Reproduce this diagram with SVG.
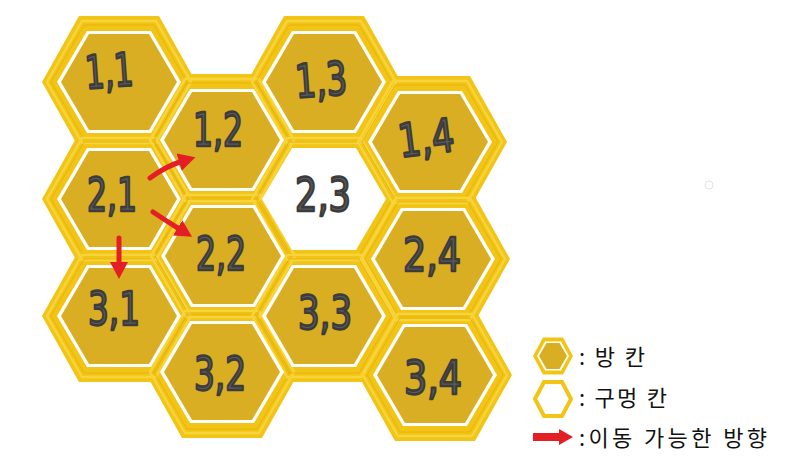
<svg xmlns="http://www.w3.org/2000/svg" width="789" height="464" viewBox="0 0 789 464">
<style>
.band{fill:#F2C416}
.s1{fill:none;stroke:#F7D43C;stroke-width:2.5}
.s2{fill:none;stroke:#E6B50C;stroke-width:1}
.ring{fill:#FFFFFF}
.gold{fill:#D9AE22}
.lbl{font-family:"DejaVu Sans","Liberation Sans",sans-serif;font-weight:normal;font-size:46px;fill:#5a5a5a;stroke:#3c3c3c;stroke-width:2.6;stroke-linejoin:round;text-anchor:middle}
.arrow{fill:none;stroke:#E31E24;stroke-width:5;stroke-linecap:round}
.leg{font-family:"Noto Sans CJK KR","Noto Sans",sans-serif;font-size:22px;fill:#111111}
</style>
<defs>
<polygon id="hOut" points="-77,0 -40,-66 40,-66 77,0 40,66 -40,66"/>
<polygon id="hS1" points="-72,0 -37,-61 37,-61 72,0 37,61 -37,61"/>
<polygon id="hS2" points="-68,0 -35,-57 35,-57 68,0 35,57 -35,57"/>
<polygon id="hRing" points="-62,0 -32,-51 32,-51 62,0 32,51 -32,51"/>
<polygon id="hGold" points="-58,0 -30,-48 30,-48 58,0 30,48 -30,48"/>
<marker id="ah" markerUnits="userSpaceOnUse" markerWidth="22" markerHeight="22" refX="4" refY="10" orient="auto">
<path d="M0,1 L17,10 L0,19 Z" fill="#E31E24"/>
</marker>
</defs>
<rect width="789" height="464" fill="#FFFFFF"/>
<g id="comb">
<use href="#hOut" class="band" x="119" y="82"/>
<use href="#hOut" class="band" x="119" y="199"/>
<use href="#hOut" class="band" x="119" y="316"/>
<use href="#hOut" class="band" x="222" y="140"/>
<use href="#hOut" class="band" x="223" y="256"/>
<use href="#hOut" class="band" x="222" y="372"/>
<use href="#hOut" class="band" x="324" y="82"/>
<use href="#hOut" class="band" x="324" y="199"/>
<use href="#hOut" class="band" x="324" y="316"/>
<use href="#hOut" class="band" x="430" y="142"/>
<use href="#hOut" class="band" x="433" y="259"/>
<use href="#hOut" class="band" x="435" y="375"/>
<g>
<use href="#hS1" class="s1" x="119" y="82"/><use href="#hS2" class="s2" x="119" y="82"/>
<use href="#hS1" class="s1" x="119" y="199"/><use href="#hS2" class="s2" x="119" y="199"/>
<use href="#hS1" class="s1" x="119" y="316"/><use href="#hS2" class="s2" x="119" y="316"/>
<use href="#hS1" class="s1" x="222" y="140"/><use href="#hS2" class="s2" x="222" y="140"/>
<use href="#hS1" class="s1" x="223" y="256"/><use href="#hS2" class="s2" x="223" y="256"/>
<use href="#hS1" class="s1" x="222" y="372"/><use href="#hS2" class="s2" x="222" y="372"/>
<use href="#hS1" class="s1" x="324" y="82"/><use href="#hS2" class="s2" x="324" y="82"/>
<use href="#hS1" class="s1" x="324" y="199"/><use href="#hS2" class="s2" x="324" y="199"/>
<use href="#hS1" class="s1" x="324" y="316"/><use href="#hS2" class="s2" x="324" y="316"/>
<use href="#hS1" class="s1" x="430" y="142"/><use href="#hS2" class="s2" x="430" y="142"/>
<use href="#hS1" class="s1" x="433" y="259"/><use href="#hS2" class="s2" x="433" y="259"/>
<use href="#hS1" class="s1" x="435" y="375"/><use href="#hS2" class="s2" x="435" y="375"/>
</g>
</g>
<g id="cell-1-1"><use href="#hRing" class="ring" x="119" y="82"/><use href="#hGold" class="gold" x="119" y="82"/><text class="lbl" x="109" y="87" textLength="48" lengthAdjust="spacingAndGlyphs" transform="rotate(-4 109 70)">1,1</text></g>
<g id="cell-1-2"><use href="#hRing" class="ring" x="222" y="140"/><use href="#hGold" class="gold" x="222" y="140"/><text class="lbl" x="218" y="146" textLength="50" lengthAdjust="spacingAndGlyphs">1,2</text></g>
<g id="cell-1-3"><use href="#hRing" class="ring" x="324" y="82"/><use href="#hGold" class="gold" x="324" y="82"/><text class="lbl" x="321" y="96" textLength="52" lengthAdjust="spacingAndGlyphs" transform="rotate(-4 321 80)">1,3</text></g>
<g id="cell-1-4"><use href="#hRing" class="ring" x="430" y="142"/><use href="#hGold" class="gold" x="430" y="142"/><text class="lbl" x="426" y="154" textLength="56" lengthAdjust="spacingAndGlyphs" transform="rotate(-7 426 138)">1,4</text></g>
<g id="cell-2-1"><use href="#hRing" class="ring" x="119" y="199"/><use href="#hGold" class="gold" x="119" y="199"/><text class="lbl" x="112" y="211" textLength="50" lengthAdjust="spacingAndGlyphs">2,1</text></g>
<g id="cell-2-2"><use href="#hRing" class="ring" x="223" y="256"/><use href="#hGold" class="gold" x="223" y="256"/><text class="lbl" x="221" y="270" textLength="50" lengthAdjust="spacingAndGlyphs">2,2</text></g>
<g id="cell-2-3"><use href="#hRing" class="ring" x="324" y="199"/><text class="lbl" x="323" y="211" textLength="56" lengthAdjust="spacingAndGlyphs">2,3</text></g>
<g id="cell-2-4"><use href="#hRing" class="ring" x="433" y="259"/><use href="#hGold" class="gold" x="433" y="259"/><text class="lbl" x="432" y="271" textLength="58" lengthAdjust="spacingAndGlyphs">2,4</text></g>
<g id="cell-3-1"><use href="#hRing" class="ring" x="119" y="316"/><use href="#hGold" class="gold" x="119" y="316"/><text class="lbl" x="114" y="325" textLength="52" lengthAdjust="spacingAndGlyphs">3,1</text></g>
<g id="cell-3-2"><use href="#hRing" class="ring" x="222" y="372"/><use href="#hGold" class="gold" x="222" y="372"/><text class="lbl" x="220" y="390" textLength="52" lengthAdjust="spacingAndGlyphs">3,2</text></g>
<g id="cell-3-3"><use href="#hRing" class="ring" x="324" y="316"/><use href="#hGold" class="gold" x="324" y="316"/><text class="lbl" x="325" y="329" textLength="54" lengthAdjust="spacingAndGlyphs">3,3</text></g>
<g id="cell-3-4"><use href="#hRing" class="ring" x="435" y="375"/><use href="#hGold" class="gold" x="435" y="375"/><text class="lbl" x="433" y="394" textLength="58" lengthAdjust="spacingAndGlyphs">3,4</text></g>
<g id="connectors">
<path class="arrow" d="M150,178 Q166,166 183,161" marker-end="url(#ah)"/>
<path class="arrow" d="M153,212 Q168,222 181,230" marker-end="url(#ah)"/>
<path class="arrow" d="M119,238 L119,266" marker-end="url(#ah)"/>
</g>
<g id="legend">
<g id="legend-room">
<polygon points="533,356 543,337.5 563,337.5 573,356 563,374.5 543,374.5" fill="#F2C416"/>
<polygon points="537,356 545,341.5 561,341.5 569,356 561,370.5 545,370.5" fill="#FFFFFF"/>
<polygon points="539,356 546.5,343 559.5,343 567,356 559.5,369 546.5,369" fill="#D9AE22"/>
<text class="leg" x="579" y="365" textLength="66">: 방 칸</text>
</g>
<g id="legend-hole">
<polygon points="535,399 544,382 562,382 571,399 562,416 544,416" fill="#FFFFFF" stroke="#F2C416" stroke-width="4"/>
<text class="leg" x="579" y="406" textLength="88">: 구멍 칸</text>
</g>
<g id="legend-arrow">
<path d="M533,433 L559,433 L559,429 L573,437 L559,445 L559,441 L533,441 Z" fill="#E31E24"/>
<text class="leg" x="579" y="446" textLength="188">:이동 가능한 방향</text>
</g>
</g>
<circle cx="709" cy="185" r="4" fill="none" stroke="#E2E2E2" stroke-width="1"/>
</svg>
